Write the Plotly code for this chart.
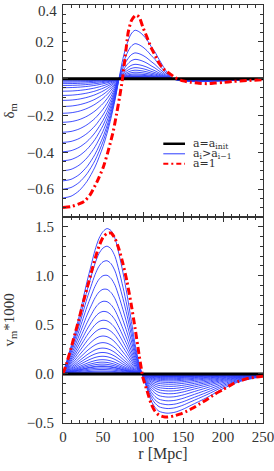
import numpy as np
import plotly.graph_objects as go

# ---------------- density panel data ----------------
r_den = [0, 10, 20, 30, 40, 50, 55, 60, 65, 70, 75, 80, 85, 90, 95, 100, 105, 110,
         115, 120, 125, 130, 135, 140, 150, 160, 170, 180, 200, 220, 250]
# normalized profile of the underdense core (times |delta(0)|)
den_neg_shape = [-1, -0.985, -0.94, -0.86, -0.74, -0.57, -0.46, -0.33, -0.18, 0,
                 0, 0, 0, 0, 0, 0, 0, 0, 0, 0, 0, 0, 0, 0, 0, 0, 0, 0, 0, 0, 0]
# normalized profile of the overdense shell (times peak value)
den_pos_shape = [0, 0, 0, 0, 0, 0, 0, 0, 0, 0, 0.42, 0.72, 0.92, 1.0, 0.97, 0.9, 0.8,
                 0.67, 0.55, 0.40, 0.26, 0.13, 0.03, 0, 0, 0, 0, 0, 0, 0, 0]
# normalized outer dip
den_tail_shape = [0, 0, 0, 0, 0, 0, 0, 0, 0, 0, 0, 0, 0, 0, 0, 0, 0, 0, 0, 0, 0, 0, 0,
                  -0.3, -0.7, -0.95, -1, -0.95, -0.75, -0.5, -0.2]
den_tail_frac = 0.025
# blue curves: value at r=0 (magnitude) and shell peak
den_blue_center = [0.004, 0.008, 0.013, 0.019, 0.027, 0.037, 0.049, 0.068, 0.091,
                   0.118, 0.151, 0.188, 0.237, 0.291, 0.346, 0.397, 0.446, 0.500,
                   0.555, 0.600, 0.648]
den_blue_peak = [0.0004, 0.0008, 0.0013, 0.0019, 0.0027, 0.0037, 0.0049, 0.0068, 0.009,
                 0.012, 0.015, 0.02, 0.026, 0.035, 0.046, 0.06, 0.078, 0.105, 0.14,
                 0.19, 0.263]

r_red_den = [0, 10, 20, 27, 34, 42, 50, 56, 60, 63, 67, 71, 74, 77.5, 81.6, 85.8, 91, 95,
             100, 105, 110, 115, 120, 125, 130, 135, 140, 143, 150, 160, 170, 180, 190,
             200, 213, 230, 250]
red_den = [-0.70, -0.695, -0.68, -0.665, -0.63, -0.564, -0.485, -0.40, -0.335, -0.282,
           -0.191, -0.093, -0.012, 0.109, 0.254, 0.318, 0.345, 0.336, 0.278, 0.225,
           0.17, 0.127, 0.085, 0.055, 0.037, 0.022, 0.006, 0.0, -0.012, -0.02, -0.025,
           -0.027, -0.024, -0.021, -0.015, -0.01, -0.006]

# ---------------- velocity panel data ----------------
r_vel = [0, 5, 10, 15, 20, 25, 30, 35, 40, 45, 50, 55, 60, 65, 70, 75, 80, 85, 90, 95,
         100, 105, 110, 115, 120, 130, 140, 150, 160, 180, 200, 220, 250]
vel_lin_shape = [0, 0.13, 0.26, 0.39, 0.52, 0.64, 0.76, 0.86, 0.94, 0.99, 1.0, 0.97,
                 0.9, 0.8, 0.67, 0.53, 0.4, 0.27, 0.15, 0.05, -0.04, -0.11, -0.17,
                 -0.22, -0.25, -0.27, -0.27, -0.25, -0.22, -0.16, -0.10, -0.06, -0.02]
vel_big_curve = [0, 0.14, 0.28, 0.42, 0.58, 0.76, 0.94, 1.1, 1.26, 1.38, 1.45, 1.48,
                 1.46, 1.38, 1.22, 1.03, 0.81, 0.56, 0.31, 0.11, -0.03, -0.15, -0.27,
                 -0.34, -0.38, -0.40, -0.39, -0.36, -0.32, -0.24, -0.15, -0.08, -0.025]
vel_blue_peak = [0.01, 0.02, 0.03, 0.045, 0.06, 0.075, 0.082, 0.1, 0.12, 0.145, 0.18,
                 0.219, 0.264, 0.32, 0.388, 0.467, 0.551, 0.642, 0.747, 0.872, 1.014,
                 1.16, 1.305, 1.48]

r_red_vel = [0, 5, 10, 15, 20, 25, 30, 35, 40, 45, 50, 55, 60, 65, 70, 75, 80, 85, 90,
             95, 100, 105, 110, 115, 120, 125, 130, 135, 140, 146, 155, 163, 170, 180,
             190, 200, 213, 220, 230, 240, 250]
red_vel = [0, 0.12, 0.26, 0.41, 0.56, 0.72, 0.87, 1.02, 1.17, 1.30, 1.39, 1.43, 1.435,
           1.38, 1.27, 1.12, 0.94, 0.72, 0.47, 0.20, -0.04, -0.17, -0.30, -0.38, -0.42,
           -0.435, -0.44, -0.435, -0.425, -0.41, -0.38, -0.345, -0.31, -0.26, -0.205,
           -0.16, -0.098, -0.075, -0.048, -0.034, -0.024]

r_init = [0, 250]
init_vals = [0, 0]

BLUE = "rgb(45,60,255)"
RED = "rgb(255,0,0)"
FONT = "Liberation Serif"
LFONT = "DejaVu Serif"
FS = 15
TXT = "#333"

fig = go.Figure()

neg = np.array(den_neg_shape)
pos = np.array(den_pos_shape)
tail = np.array(den_tail_shape)
for c, p in zip(den_blue_center, den_blue_peak):
    y = c * neg + p * pos + c * den_tail_frac * tail
    fig.add_trace(go.Scatter(x=r_den, y=y, mode="lines",
                             line=dict(color=BLUE, width=0.9, shape="spline", smoothing=0.8),
                             xaxis="x", yaxis="y", showlegend=False, hoverinfo="skip"))
fig.add_trace(go.Scatter(x=r_init, y=init_vals, mode="lines",
                         line=dict(color="black", width=3), xaxis="x", yaxis="y",
                         showlegend=False))
fig.add_trace(go.Scatter(x=r_red_den, y=red_den, mode="lines",
                         line=dict(color=RED, width=3, dash="7px,3px,2px,3px",
                                   shape="spline", smoothing=0.6),
                         xaxis="x", yaxis="y", showlegend=False))

lin = np.array(vel_lin_shape)
big = np.array(vel_big_curve) / vel_blue_peak[-1]
for a in vel_blue_peak:
    w = a / vel_blue_peak[-1]
    y = a * (w * big + (1 - w) * lin)
    fig.add_trace(go.Scatter(x=r_vel, y=y, mode="lines",
                             line=dict(color=BLUE, width=0.9, shape="spline", smoothing=0.8),
                             xaxis="x2", yaxis="y2", showlegend=False, hoverinfo="skip"))
fig.add_trace(go.Scatter(x=r_init, y=init_vals, mode="lines",
                         line=dict(color="black", width=3), xaxis="x2", yaxis="y2",
                         showlegend=False))
fig.add_trace(go.Scatter(x=r_red_vel, y=red_vel, mode="lines",
                         line=dict(color=RED, width=3, dash="7px,3px,2px,3px",
                                   shape="spline", smoothing=0.6),
                         xaxis="x2", yaxis="y2", showlegend=False))

axis_common = dict(showline=True, linecolor="#333", linewidth=1, mirror="ticks",
                   ticks="inside", ticklen=5, tickcolor="#333", showgrid=False,
                   zeroline=False, automargin=False,
                   tickfont=dict(family=FONT, size=FS, color=TXT))

split = 0.4933
fig.update_layout(
    width=274, height=471,
    margin=dict(l=63, r=11, t=5, b=48),
    plot_bgcolor="white", paper_bgcolor="white",
    xaxis=dict(domain=[0, 1], anchor="y", range=[0, 250], dtick=50, tick0=0,
               showticklabels=False,
               minor=dict(dtick=10, ticklen=3, ticks="inside", tickcolor="#333"),
               **axis_common),
    yaxis=dict(domain=[split, 1], anchor="x", range=[-0.75, 0.4],
               tickmode="array", tickvals=[-0.6, -0.4, -0.2, 0, 0.2, 0.4],
               ticktext=["−0.6", "−0.4", "−0.2", "0.0", "0.2", ""],
               minor=dict(tickmode="linear", tick0=0, dtick=0.05, ticklen=3,
                          ticks="inside", tickcolor="#333"),
               ticklabelstandoff=5,
               title=dict(text="δ<sub>m</sub>", font=dict(family=FONT, size=FS, color=TXT),
                          standoff=8),
               **axis_common),
    xaxis2=dict(domain=[0, 1], anchor="y2", range=[0, 250], dtick=50, tick0=0,
                ticklabeloverflow="allow",
                minor=dict(dtick=10, ticklen=3, ticks="inside", tickcolor="#333"),
                title=dict(text="r [Mpc]", font=dict(family=FONT, size=16, color=TXT),
                           standoff=3),
                **axis_common),
    yaxis2=dict(domain=[0, split], anchor="x2", range=[-0.5, 1.6], dtick=0.5, tick0=0,
                tickformat=".1f",
                minor=dict(dtick=0.1, tick0=0, ticklen=3, ticks="inside", tickcolor="#333"),
                ticklabelstandoff=5,
                title=dict(text="v<sub>m</sub>*1000", font=dict(family=FONT, size=FS, color=TXT),
                           standoff=8),
                **axis_common),
)

# top tick label of the upper panel
fig.add_annotation(text="0.4", xref="paper", yref="paper", x=0, y=0.9856,
                   xanchor="right", yanchor="middle", xshift=-4, showarrow=False,
                   font=dict(family=FONT, size=FS, color=TXT))

# legend
leg_x0, leg_x1, leg_tx = 0.5015, 0.61, 0.6385
leg_rows = [0.6680, 0.6440, 0.6200]
leg_text = ["a=a<sub>init</sub>", "a<sub>i</sub>>a<sub>i−1</sub>", "a=1"]
leg_lines = [dict(color="black", width=2.5), dict(color=BLUE, width=1),
             dict(color=RED, width=2, dash="5px,3px,2px,3px")]
for yy, tt, ll in zip(leg_rows, leg_text, leg_lines):
    fig.add_shape(type="line", xref="paper", yref="paper", x0=leg_x0, x1=leg_x1,
                  y0=yy, y1=yy, line=ll)
    fig.add_annotation(text=tt, xref="paper", yref="paper", x=leg_tx, y=yy,
                       xanchor="left", yanchor="middle", showarrow=False,
                       font=dict(family=LFONT, size=11, color=TXT))

fig.write_html("out.html",
               config={"displayModeBar": False},
               post_script="document.body.style.margin='0';document.body.style.padding='0';")
